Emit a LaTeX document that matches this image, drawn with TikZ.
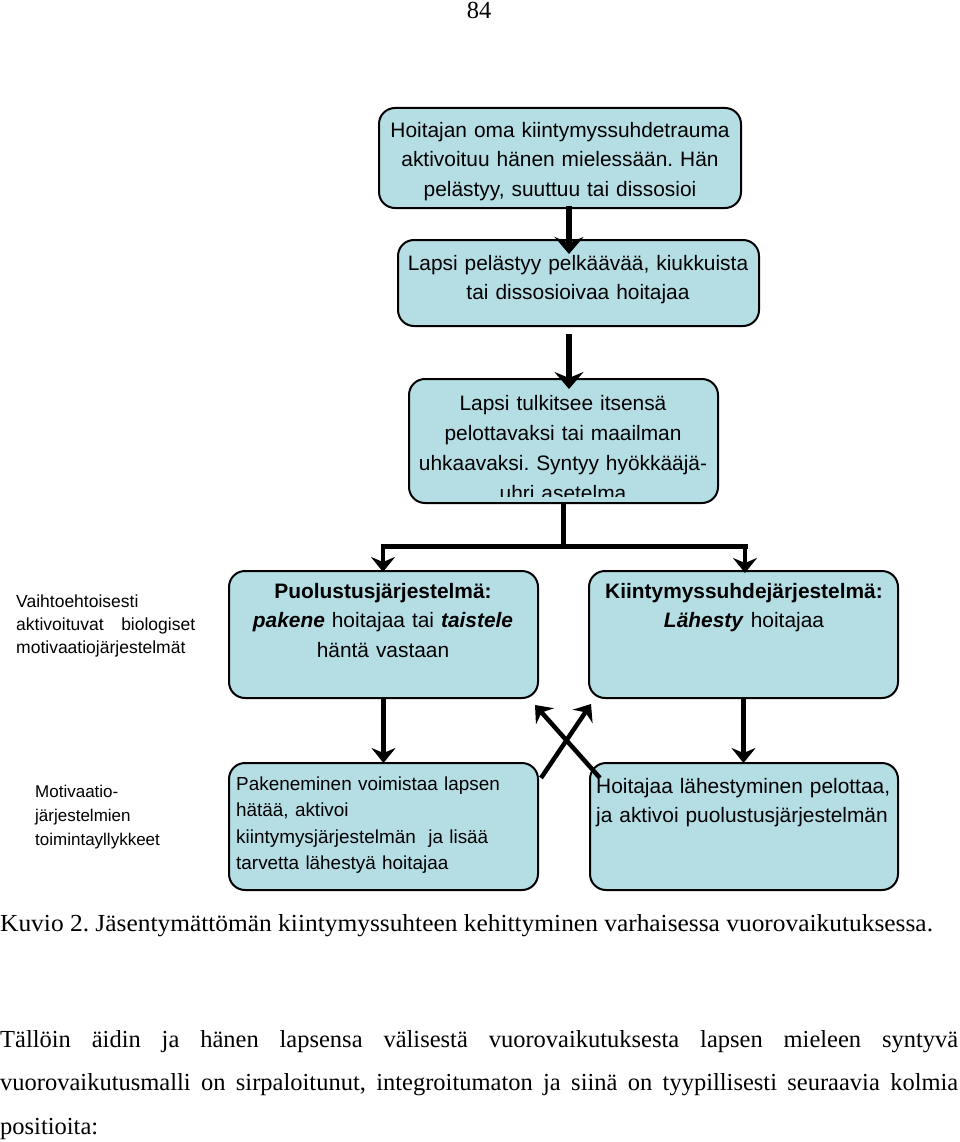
\documentclass[tikz,border=0pt]{standalone}
\usepackage{fontspec}
\setmainfont{Liberation Serif}
\newfontfamily\arial{Liberation Sans}
\usetikzlibrary{arrows.meta}
\definecolor{boxfill}{RGB}{181,222,228}
\frenchspacing
\begin{document}
\begin{tikzpicture}[x=1pt,y=-1pt,
  box/.style={draw=black, line width=2pt, fill=boxfill, rounded corners=16pt, inner sep=0pt},
  btxt/.style={font=\arial\fontsize{20.9pt}{29.5pt}\selectfont, align=center, inner sep=0pt, anchor=base},
  ltxt/.style={font=\arial\fontsize{17.5pt}{23pt}\selectfont, align=left, inner sep=0pt, anchor=base west},
  bigarr/.style={line width=6pt, -{Stealth[length=17pt, width=29pt, inset=6pt]}},
  arr/.style={line width=4.5pt, -{Stealth[length=15pt, width=24pt, inset=5pt]}},
  conn/.style={line width=5pt},
  serif/.style={font=\fontsize{24.5pt}{43.5pt}\selectfont, inner sep=0pt}
]
\useasboundingbox (0,0) rectangle (960,1142);

% page number
\node[serif, anchor=base] (pn) at (479,19) {84};

% boxes
\node[box, minimum width=362pt, minimum height=100pt] (b1) at (560,158) {};
\node[box, minimum width=361pt, minimum height=86pt] (b2) at (578.5,283) {};
\node[box, minimum width=309pt, minimum height=124pt] (b3) at (563.5,441) {};
\node[box, minimum width=309pt, minimum height=127pt] (b4) at (383.5,634.5) {};
\node[box, minimum width=309pt, minimum height=127pt] (b5) at (743.5,634.5) {};
\node[box, minimum width=309pt, minimum height=127pt] (b6) at (383.5,826.5) {};
\node[box, minimum width=308pt, minimum height=127pt] (b7) at (744,826.5) {};

% box texts
\node[btxt, text width=350pt] (t1) at (560,137.5) {Hoitajan oma kiintymyssuhdetrauma\\aktivoituu hänen mielessään. Hän\\pelästyy, suuttuu tai dissosioi};
\node[btxt, text width=350pt] (t2) at (578,270) {Lapsi pelästyy pelkäävää, kiukkuista\\tai dissosioivaa hoitajaa};
\begin{scope}
  \clip (409,379) rectangle (718,496.5);
  \node[btxt, font=\arial\fontsize{20.9pt}{30pt}\selectfont, text width=300pt] (t3) at (563,410) {Lapsi tulkitsee itsensä\\pelottavaksi tai maailman\\uhkaavaksi. Syntyy hyökkääjä-\\uhri asetelma};
\end{scope}
\node[btxt, text width=300pt] (t4) at (383,598) {\textbf{Puolustusjärjestelmä:}\\\textbf{\textit{pakene}} hoitajaa tai \textbf{\textit{taistele}}\\häntä vastaan};
\node[btxt, text width=300pt] (t5) at (744,598) {\textbf{Kiintymyssuhdejärjestelmä:}\\\textbf{\textit{Lähesty}} hoitajaa};
\node[btxt, font=\arial\fontsize{18.9pt}{26.5pt}\selectfont, align=left, anchor=base west, text width=300pt] (t6) at (236,790) {Pakeneminen voimistaa lapsen\\hätää, aktivoi\\kiintymysjärjestelmän\ \ ja lisää\\tarvetta lähestyä hoitajaa};
\node[btxt, align=left, anchor=base west, text width=300pt] (t7) at (596,793) {Hoitajaa lähestyminen pelottaa,\\ja aktivoi puolustusjärjestelmän};

% side labels
\node[ltxt, text width=179pt] (l1) at (16,607) {Vaihtoehtoisesti\\aktivoituvat\hfill biologiset\\motivaatiojärjestelmät};
\node[ltxt, font=\arial\fontsize{17pt}{24pt}\selectfont, text width=150pt] (l2) at (35,797) {Motivaatio-\\järjestelmien\\toimintayllykkeet};

% connectors
\coordinate (ax) at (569,0);
\draw[bigarr] ([yshift=3pt]b1.south -| ax) -- ([yshift=-15pt]b2.north -| ax);
\draw[bigarr] ([yshift=-7pt]b2.south -| ax) -- ([yshift=-11pt]b3.north -| ax);

\coordinate (jn) at (563,546);
\coordinate (jl) at (383,546);
\coordinate (jr) at (745,546);
\draw[conn] (b3.south -| jn) -- (jn);
\draw[conn, line cap=rect] (jl) -- (jr);
\draw[arr] (jl) -- ([yshift=-2pt]jl |- b4.north);
\draw[arr] (jr) -- ([yshift=-3pt]jr |- b5.north);

\draw[arr] (b4.south) -- ([yshift=-1pt]b6.north);
\draw[arr] (b5.south) -- ([yshift=-1pt]b5.south |- b7.north);

\coordinate (xa1) at (541,778);
\coordinate (xa2) at (591,704);
\coordinate (xb1) at (600,778);
\coordinate (xb2) at (535,705);
\draw[arr] (xa1) -- (xa2);
\draw[arr] (xb1) -- (xb2);

% caption and paragraph
\node[serif, anchor=base west] (cap) at (0,931) {\scalebox{1.037}[1]{Kuvio 2. Jäsentymättömän kiintymyssuhteen kehittyminen varhaisessa vuorovaikutuksessa.}};
\node[serif, anchor=base west, text width=958pt, align=justify] (par) at (0,1047) {Tällöin äidin ja hänen lapsensa välisestä vuorovaikutuksesta lapsen mieleen syntyvä\linebreak vuorovaikutusmalli on sirpaloitunut, integroitumaton ja siinä on tyypillisesti seuraavia kolmia\linebreak positioita:};
\end{tikzpicture}
\end{document}
